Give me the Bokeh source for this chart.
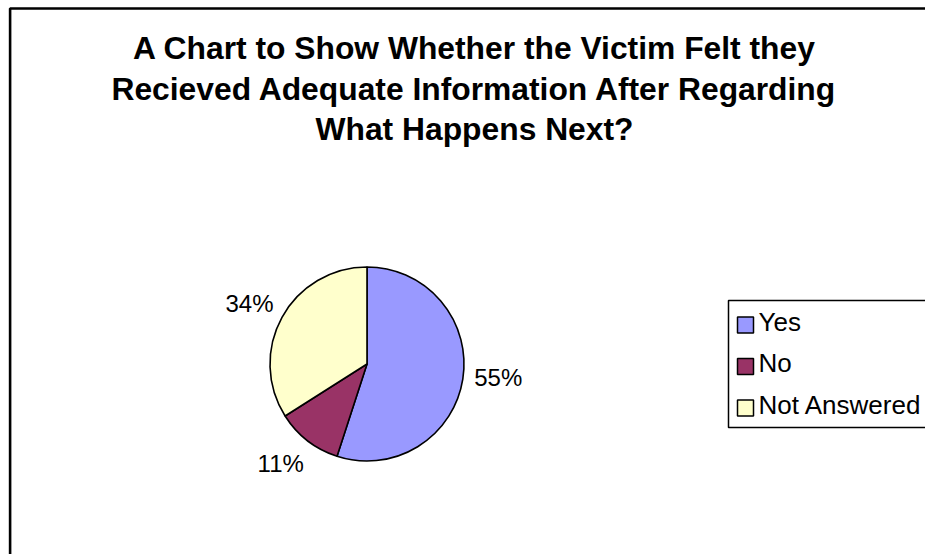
import math
from bokeh.plotting import figure
from bokeh.models import ColumnDataSource, Range1d
from bokeh.core.properties import value
from bokeh.embed import file_html
from bokeh.resources import INLINE

# ---- data ----
categories = ["Yes", "No", "Not Answered"]
percentages = [55, 11, 34]
colors = ["#9999FF", "#993366", "#FFFFCC"]
title_lines = [
    "A Chart to Show Whether the Victim Felt they",
    "Recieved Adequate Information After Regarding",
    "What Happens Next?",
]

# ---- layout ----
W, H = 925, 554
FONT = "Liberation Sans"


def sx(x):
    return x


def sy(y):
    return H - y


p = figure(width=W, height=H, x_range=Range1d(0, W), y_range=Range1d(0, H),
           output_backend="svg", toolbar_location=None, min_border=0,
           x_axis_type=None, y_axis_type=None)
p.grid.visible = False
p.outline_line_color = None
p.background_fill_color = "white"
p.border_fill_color = "white"

# chart frame (only left/top edges visible, rest is outside the view)
p.quad(left=[sx(9.6)], right=[3000], top=[sy(8)], bottom=[-3000],
       fill_color=None, line_color="black", line_width=2.6)

# ---- title ----
title_y0 = sy(47.5)
line_step = 40.5
p.text(x=[sx(474)] * len(title_lines),
       y=[title_y0 - i * line_step for i in range(len(title_lines))],
       text=title_lines, text_font=value(FONT), text_font_size="31.8px",
       text_font_style="bold", text_align="center", text_baseline="middle",
       text_color="black")

# ---- pie ----
cx, cy, R = sx(366.5), sy(363.5), 97
total = float(sum(percentages))
starts, ends, mids = [], [], []
cum = 0.0
for v in percentages:
    s = 90 - 360 * cum / total
    e = 90 - 360 * (cum + v) / total
    starts.append(s)
    ends.append(e)
    mids.append((s + e) / 2)
    cum += v

src = ColumnDataSource(dict(start=starts, end=ends, color=colors, cat=categories))
p.wedge(x=cx, y=cy, radius=R, radius_units="screen",
        start_angle="start", end_angle="end",
        start_angle_units="deg", end_angle_units="deg", direction="clock",
        fill_color="color", line_color="black", line_width=1.6, source=src)

# data labels (outside end)
label_nudge_deg = [3, -3, 1.7]
label_r = 132
lx, ly, lt = [], [], []
for m, nd, v in zip(mids, label_nudge_deg, percentages):
    a = math.radians(m + nd)
    lx.append(cx + label_r * math.cos(a))
    ly.append(cy + label_r * math.sin(a))
    lt.append(f"{round(100 * v / total)}%")
p.text(x=lx, y=ly, text=lt, text_font=value(FONT), text_font_size="24px",
       text_align="center", text_baseline="middle", text_color="black")

# ---- legend ----
p.quad(left=[sx(728)], right=[3000], top=[sy(300)], bottom=[sy(427)],
       fill_color="white", line_color="black", line_width=1.5)
leg_y0 = sy(324.5)
leg_step = 41.5
sq_y = [leg_y0 - i * leg_step for i in range(len(categories))]
p.scatter(x=[sx(745)] * len(categories), y=sq_y, marker="square", size=16,
          fill_color=colors, line_color="black", line_width=1.5)
p.text(x=[sx(758)] * len(categories), y=[y + 3.5 for y in sq_y], text=categories,
       text_font=value(FONT), text_font_size="26px", text_align="left",
       text_baseline="middle", text_color="black")

open("out.html", "w").write(file_html(p, INLINE))
